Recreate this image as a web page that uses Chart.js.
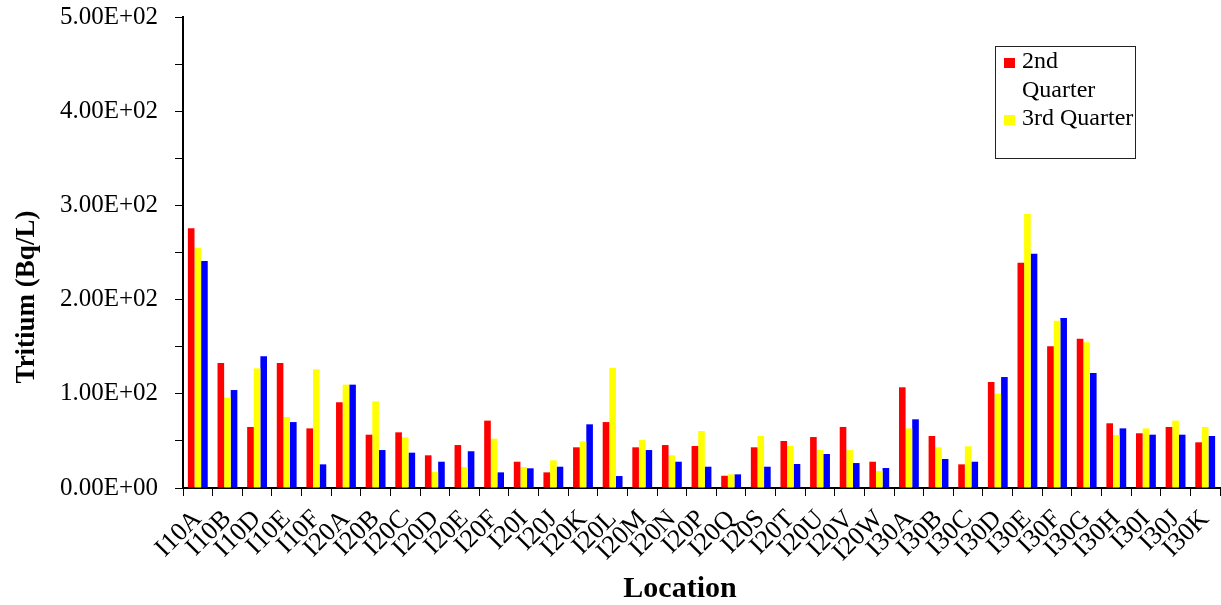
<!DOCTYPE html>
<html>
<head>
<meta charset="utf-8">
<script src="https://cdn.jsdelivr.net/npm/chart.js@4"></script>
<style>
  html, body { margin: 0; padding: 0; background: #fff; }
</style>
</head>
<body>
<canvas id="chart" width="1221" height="605"></canvas>
<script>
// sampling locations along the x axis
const locations = ['I10A', 'I10B', 'I10D', 'I10E', 'I10F', 'I20A', 'I20B', 'I20C', 'I20D', 'I20E',
    'I20F', 'I20I', 'I20J', 'I20K', 'I20L', 'I20M', 'I20N', 'I20P', 'I20Q', 'I20S',
    'I20T', 'I20U', 'I20V', 'I20W', 'I30A', 'I30B', 'I30C', 'I30D', 'I30E', 'I30F',
    'I30G', 'I30H', 'I30I', 'I30J', 'I30K'];

// tritium, Bq/L
const secondQuarter = [275.7, 132.7, 64.8, 132.7, 63.3, 91.0, 56.6, 59.1, 34.7, 45.6,
    71.5, 27.9, 16.6, 43.2, 70.0, 43.2, 45.6, 44.6, 13.0, 43.2,
    49.9, 54.1, 64.8, 27.9, 106.9, 55.2, 25.1, 112.5, 239.2, 150.4,
    158.5, 68.7, 58.1, 64.8, 48.5];
const thirdQuarter = [255.0, 95.9, 127.0, 75.4, 126.0, 109.7, 92.0, 53.8, 17.0, 22.3,
    52.4, 22.3, 29.4, 49.6, 127.4, 51.0, 34.7, 60.5, 14.5, 55.2,
    44.6, 40.3, 40.3, 18.0, 63.3, 43.2, 44.3, 100.1, 290.9, 177.6,
    154.7, 56.3, 63.3, 71.5, 64.8];
// blue series has no entry in the legend
const blueSeries = [241.0, 104.0, 139.8, 70.0, 25.1, 109.7, 40.3, 37.5, 27.9, 39.0,
    16.6, 20.9, 22.6, 67.6, 12.7, 40.3, 27.9, 22.6, 14.5, 22.6,
    25.5, 36.1, 26.5, 21.2, 72.9, 30.8, 27.9, 117.8, 248.7, 180.5,
    122.1, 63.3, 56.6, 56.6, 55.2];

const yMax = 500;
const yStep = 100;

const serif = '"Liberation Serif", "Times New Roman", serif';

// 500 -> "5.00E+02"
function sci(v) {
    const [m, e] = v.toExponential(2).split('e');
    const sign = e[0] === '-' ? '-' : '+';
    const exp = e.replace(/[+-]/, '').padStart(2, '0');
    return m + 'E' + sign + exp;
}

// axis titles + the boxed legend, drawn on top of the chart
const overlay = {
    id: 'overlay',
    afterDraw(chart) {
        const ctx = chart.ctx;
        ctx.save();
        ctx.fillStyle = '#000';

        // y title
        ctx.font = 'bold 27px ' + serif;
        ctx.textAlign = 'center';
        ctx.textBaseline = 'middle';
        ctx.translate(27, 297);
        ctx.rotate(-Math.PI / 2);
        ctx.fillText('Tritium (Bq/L)', 0, 0);
        ctx.setTransform(1, 0, 0, 1, 0, 0);

        // x title
        ctx.font = 'bold 30px ' + serif;
        ctx.textBaseline = 'alphabetic';
        ctx.fillText('Location', 680, 597);

        // legend box
        const box = { x: 995.5, y: 46.5, w: 140, h: 112 };
        ctx.fillStyle = '#fff';
        ctx.fillRect(box.x, box.y, box.w, box.h);
        ctx.strokeStyle = '#222';
        ctx.lineWidth = 1;
        ctx.strokeRect(box.x, box.y, box.w, box.h);

        ctx.font = '24px ' + serif;
        ctx.textAlign = 'left';
        const textX = 1022;
        const maxW = 112;
        const lineH = 28.5;
        let baseline = 68;
        chart.data.datasets.forEach(ds => {
            if (!ds.label) return;
            // wrap words the way the original legend does
            const lines = [];
            let cur = '';
            ds.label.split(' ').forEach(w => {
                const t = cur ? cur + ' ' + w : w;
                if (cur && ctx.measureText(t).width > maxW) {
                    lines.push(cur);
                    cur = w;
                } else {
                    cur = t;
                }
            });
            lines.push(cur);

            ctx.fillStyle = ds.backgroundColor;
            ctx.fillRect(1004, baseline - 10, 11, 10);
            ctx.fillStyle = '#000';
            lines.forEach(l => {
                ctx.fillText(l, textX, baseline);
                baseline += lineH;
            });
        });
        ctx.restore();
    }
};

new Chart(document.getElementById('chart'), {
    type: 'bar',
    data: {
        labels: locations,
        datasets: [
            { label: '2nd Quarter', data: secondQuarter, backgroundColor: '#ff0000' },
            { label: '3rd Quarter', data: thirdQuarter, backgroundColor: '#ffff00' },
            { label: '', data: blueSeries, backgroundColor: '#0000ff' }
        ]
    },
    options: {
        responsive: false,
        animation: false,
        devicePixelRatio: 1,
        layout: { padding: { top: 17, right: 1, left: 0, bottom: 0 } },
        datasets: {
            bar: { categoryPercentage: 0.67, barPercentage: 1.0 }
        },
        plugins: {
            legend: { display: false },
            tooltip: { enabled: false }
        },
        scales: {
            x: {
                grid: { drawOnChartArea: false, tickLength: 8, color: '#000' },
                border: { color: '#000', width: 2 },
                ticks: {
                    autoSkip: false,
                    maxRotation: 45,
                    minRotation: 45,
                    padding: 8,
                    color: '#000',
                    font: { family: serif, size: 26 }
                },
                afterFit: s => {
                    s.height = 117;
                    s.paddingLeft = 0;
                    s.paddingRight = 0;
                }
            },
            y: {
                min: 0,
                max: yMax,
                grid: { drawOnChartArea: false, tickLength: 8, color: '#000' },
                border: { color: '#000', width: 2 },
                ticks: {
                    stepSize: yStep / 2,
                    padding: 17,
                    color: '#000',
                    font: { family: serif, size: 25 },
                    callback: v => (v % yStep === 0 ? sci(v) : '')
                },
                afterFit: s => {
                    s.width = 183;
                    s.paddingTop = 0;
                    s.paddingBottom = 0;
                }
            }
        }
    },
    plugins: [overlay]
});
</script>
</body>
</html>
